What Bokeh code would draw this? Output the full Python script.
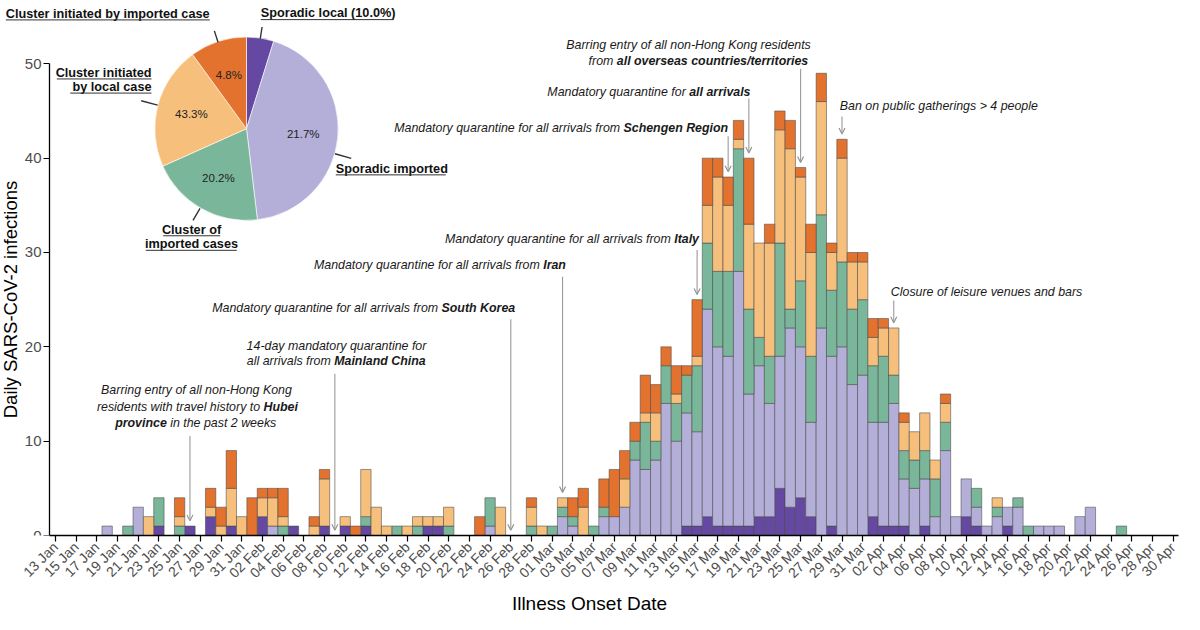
import math
import numpy as np
import pandas as pd
from bokeh.plotting import figure
from bokeh.models import ColumnDataSource, FixedTicker, Label, Arrow, OpenHead, Range1d
from bokeh.embed import file_html
from bokeh.resources import INLINE

# ---------------- data ----------------
onset_dates = (
    ["2020-01-18", "2020-01-20", "2020-01-21", "2020-01-22", "2020-01-23", "2020-01-25",
     "2020-01-26", "2020-01-28", "2020-01-29", "2020-01-30", "2020-01-31"]
    + ["2020-02-01", "2020-02-02", "2020-02-03", "2020-02-04", "2020-02-05", "2020-02-07",
       "2020-02-08", "2020-02-10", "2020-02-11", "2020-02-12", "2020-02-13", "2020-02-14",
       "2020-02-15", "2020-02-16", "2020-02-17", "2020-02-18", "2020-02-19", "2020-02-20",
       "2020-02-23", "2020-02-24", "2020-02-25", "2020-02-28", "2020-02-29"]
    + [f"2020-03-{d:02d}" for d in range(1, 32)]
    + [f"2020-04-{d:02d}" for d in range(1, 20)] + ["2020-04-21", "2020-04-22", "2020-04-25"]
)

sporadic_local = (
    [0, 0, 0, 0, 1, 0, 1, 2, 0, 1, 0]
    + [0, 2, 0, 0, 1, 0, 1, 1, 0, 1, 0, 0, 0, 0, 0, 1, 1, 0, 0, 0, 0, 0, 0]
    + [0, 0, 0, 0, 0, 0, 0, 0, 0, 0, 0, 0, 0, 1, 1, 2, 1, 1, 1, 1, 2, 2, 5, 3, 4, 2, 0, 1, 0, 0, 0]
    + [2, 1, 1, 1, 0, 1, 0, 0, 0, 2, 1, 0, 0, 1, 0, 0, 0, 0, 0, 0, 0, 0]
)
sporadic_imported = (
    [1, 0, 3, 0, 0, 0, 0, 0, 0, 0, 0]
    + [0, 0, 1, 0, 0, 0, 0, 0, 0, 0, 0, 0, 0, 0, 0, 0, 0, 0, 0, 1, 0, 0, 0]
    + [0, 2, 1, 0, 0, 2, 2, 3, 8, 7, 8, 14, 10, 12, 10, 22, 19, 18, 27, 14, 16, 12, 14, 19, 16, 10, 22, 18, 20, 16, 17]
    + [10, 11, 13, 5, 5, 5, 2, 9, 2, 4, 2, 1, 2, 2, 3, 0, 1, 1, 1, 2, 3, 0]
)
cluster_of_imported = (
    [0, 1, 0, 0, 3, 1, 0, 0, 0, 0, 0]
    + [0, 0, 0, 1, 0, 0, 0, 0, 0, 1, 0, 0, 1, 0, 1, 0, 0, 1, 0, 3, 0, 1, 0]
    + [1, 1, 1, 0, 1, 1, 0, 0, 2, 5, 2, 4, 4, 4, 7, 7, 8, 9, 13, 9, 3, 5, 12, 2, 7, 7, 12, 7, 9, 8, 8]
    + [6, 7, 3, 3, 3, 3, 4, 3, 0, 0, 2, 0, 1, 0, 1, 1, 0, 0, 0, 0, 0, 1]
)
cluster_by_local = (
    [0, 0, 0, 2, 0, 1, 0, 1, 1, 4, 2]
    + [0, 2, 3, 1, 0, 1, 5, 1, 0, 5, 3, 1, 0, 1, 1, 1, 1, 2, 0, 0, 3, 2, 1]
    + [0, 1, 0, 3, 0, 0, 0, 3, 0, 1, 3, 0, 1, 0, 1, 4, 10, 7, 1, 9, 10, 12, 12, 17, 11, 11, 12, 4, 11, 5, 4]
    + [3, 3, 5, 3, 3, 4, 2, 2, 0, 0, 0, 0, 1, 0, 0, 0, 0, 0, 0, 0, 0, 0]
)
cluster_by_imported = (
    [0, 0, 0, 0, 0, 2, 0, 2, 2, 4, 0]
    + [4, 1, 1, 3, 0, 1, 1, 0, 1, 0, 0, 0, 0, 0, 0, 0, 0, 0, 2, 0, 0, 1, 0]
    + [0, 0, 2, 2, 0, 3, 5, 3, 2, 4, 3, 2, 3, 1, 6, 5, 2, 3, 2, 7, 0, 2, 2, 3, 1, 3, 3, 1, 2, 1, 1]
    + [2, 1, 0, 1, 0, 0, 0, 1, 0, 0, 0, 0, 0, 0, 0, 0, 0, 0, 0, 0, 0, 0]
)

series = [sporadic_local, sporadic_imported, cluster_of_imported, cluster_by_local, cluster_by_imported]
category_names = ["Sporadic local", "Sporadic imported", "Cluster of imported cases",
                  "Cluster initiated by local case", "Cluster initiated by imported case"]
colors = ["#6448a2", "#b4afd8", "#7ab79a", "#f6c07c", "#e3722f"]

# pie (shares in %, clockwise from 12 o'clock) and its texts as printed on the figure
pie_share = [4.8, 43.3, 20.2, 21.7, 10.0]
pie_inner_text = ["", "21.7%", "20.2%", "43.3%", "4.8%"]

# interventions
event_dates = ["2020-01-26", "2020-02-09", "2020-02-26", "2020-03-02", "2020-03-15",
               "2020-03-18", "2020-03-20", "2020-03-25", "2020-03-29", "2020-04-03"]

start_date = pd.Timestamp("2020-01-13")
end_date = pd.Timestamp("2020-04-30")
tick_dates = pd.date_range(start_date, end_date, freq="2D")
tick_labels = [d.strftime("%d %b") for d in tick_dates]
y_ticks = [0, 10, 20, 30, 40, 50]

# ---------------- layout helpers (reference pixel -> data space) ----------------
X0, DXP = 57.9, 10.35     # reference pixel of day 0, pixels per day
Y0, DYP = 548.7, 9.54     # reference pixel of y=0, pixels per unit
SHIFT = 5.0               # page is shifted right a little (8px page margin)


def dx(px):
    return (px - X0) / DXP


def dy(py):
    return (Y0 - py) / DYP


FONT = "Liberation Sans"
W, H = 1184, 616
BR = 6
x_lo = dx(8 - SHIFT)
x_hi = dx(8 - SHIFT + (W - BR))

p = figure(width=W, height=H, x_range=Range1d(x_lo, x_hi), y_range=Range1d(0, 56.5),
           output_backend="svg", toolbar_location=None,
           min_border_left=0, min_border_right=BR, min_border_top=2, min_border_bottom=75)
p.outline_line_color = None
p.xgrid.grid_line_color = None
p.ygrid.grid_line_color = None
p.background_fill_color = "white"
p.border_fill_color = "white"

# ---------------- stacked bars ----------------
days = np.array([(pd.Timestamp(d) - start_date).days for d in onset_dates])
bottom = np.zeros(len(days))
for vals, col in zip(series, colors):
    v = np.array(vals, dtype=float)
    mask = v > 0
    src = ColumnDataSource(dict(x=days[mask], bottom=bottom[mask], top=(bottom + v)[mask]))
    p.vbar(x="x", width=1.0, bottom="bottom", top="top", source=src,
           fill_color=col, line_color="#4a4a4a", line_width=0.7, line_alpha=0.8)
    bottom = bottom + v
totals = dict(zip(days.tolist(), bottom.tolist()))

# ---------------- axes ----------------
axis_x_left = dx(52)
xa = p.xaxis[0]
xa.ticker = FixedTicker(ticks=[(d - start_date).days for d in tick_dates])
xa.major_label_overrides = {(d - start_date).days: lab for d, lab in zip(tick_dates, tick_labels)}
xa.major_label_orientation = math.pi / 4
xa.axis_label = "Illness Onset Date"
xa.bounds = (axis_x_left, x_hi)
ya = p.yaxis[0]
ya.ticker = FixedTicker(ticks=y_ticks)
ya.bounds = (0, 50)
ya.fixed_location = axis_x_left
ya.axis_label = "Daily SARS-CoV-2 infections"
for ax in (xa, ya):
    ax.minor_tick_line_color = None
    ax.major_tick_in = 0
    ax.major_tick_out = 6
    ax.axis_line_color = "black"
    ax.axis_line_width = 1.3
    ax.major_tick_line_color = "black"
    ax.major_tick_line_width = 1.2
    ax.major_label_text_font = FONT
    ax.major_label_text_color = "#4d4d4d"
    ax.axis_label_text_font = FONT
    ax.axis_label_text_font_style = "normal"
    ax.axis_label_text_font_size = "19px"
    ax.axis_label_text_color = "black"
    ax.major_label_standoff = 3
    ax.axis_label_standoff = 3
xa.major_label_text_font_size = "14px"
ya.major_label_text_font_size = "15px"
ya.major_label_standoff = 2
ya.axis_label_standoff = 1
ya.axis_label_text_font_size = "18.5px"

# ---------------- pie ----------------
pcx, pcy, PR = 249.0, 137.3, 91.7
fr = np.array(pie_share) / sum(pie_share)
f1 = np.cumsum(fr)
f0 = f1 - fr
pie_src = ColumnDataSource(dict(
    x=[dx(pcx)] * len(fr), y=[dy(pcy)] * len(fr),
    start=(math.pi / 2 - 2 * math.pi * f1).tolist(),
    end=(math.pi / 2 - 2 * math.pi * f0).tolist(),
    color=colors))
p.wedge(x="x", y="y", radius=PR, radius_units="screen", start_angle="start", end_angle="end",
        fill_color="color", line_color="white", line_width=0.6, source=pie_src)

mid = 2 * math.pi * (f0 + f1) / 2
for a, t in zip(mid, pie_inner_text):
    if not t:
        continue
    r = 57
    p.add_layout(Label(x=dx(pcx + r * math.sin(a)), y=dy(pcy - r * math.cos(a)), text=t,
                       text_font=FONT, text_font_size="11.5px", text_color="#222222",
                       text_align="center", text_baseline="middle"))

# leader lines (angles in degrees clockwise from top)
leader_deg = [8.6, 106.0, 210.0, 285.0, 342.0]
leader_len = [(92, 104), (92, 109), (93, 107), (92, 109), (92, 104)]
ls = dict(x0=[], y0=[], x1=[], y1=[])
for deg, (r0, r1) in zip(leader_deg, leader_len):
    a = math.radians(deg)
    ls["x0"].append(dx(pcx + r0 * math.sin(a)))
    ls["y0"].append(dy(pcy - r0 * math.cos(a)))
    ls["x1"].append(dx(pcx + r1 * math.sin(a)))
    ls["y1"].append(dy(pcy - r1 * math.cos(a)))
p.add_layout(Arrow(x_start="x0", y_start="y0", x_end="x1", y_end="y1", end=None,
                   line_color="#333333", line_width=1.4, source=ColumnDataSource(ls)))

pie_labels = [
    ("Cluster initiated by imported case", 8.3, 21.0, "left", (8.3, 212.3, 27.3)),
    ("Sporadic local (10.0%)", 263.3, 20.7, "left", (263.3, 396.0, 27.0)),
    ("Cluster initiated", 154.0, 80.7, "right", (59.3, 154.0, 87.0)),
    ("by local case", 154.0, 95.0, "right", (72.7, 154.0, 101.3)),
    ("Sporadic imported", 338.3, 177.7, "left", (338.3, 448.3, 184.0)),
    ("Cluster of", 194.0, 239.3, "center", (165.7, 222.7, 245.6)),
    ("imported cases", 194.0, 254.0, "center", (148.3, 239.3, 260.3)),
]
ul = dict(x0=[], y0=[], x1=[], y1=[])
for text, px, py, al, (u0, u1, uy) in pie_labels:
    p.add_layout(Label(x=dx(px), y=dy(py), text=text, text_font=FONT, text_font_style="bold",
                       text_font_size="12.7px", text_color="#111111",
                       text_align=al, text_baseline="middle"))
    ul["x0"].append(dx(u0)); ul["x1"].append(dx(u1))
    ul["y0"].append(dy(uy)); ul["y1"].append(dy(uy))
p.add_layout(Arrow(x_start="x0", y_start="y0", x_end="x1", y_end="y1", end=None,
                   line_color="#333333", line_width=1.0, source=ColumnDataSource(ul)))

# ---------------- intervention annotations ----------------
arrow_tail_py = [448, 385, 330, 287, 260, 145, 106.7, 76.7, 125, 311]
ev_days = [(pd.Timestamp(d) - start_date).days for d in event_dates]
arr = dict(x0=ev_days, x1=ev_days,
           y0=[dy(t) for t in arrow_tail_py],
           y1=[totals.get(d, 0) + 0.55 for d in ev_days])
p.add_layout(Arrow(x_start="x0", y_start="y0", x_end="x1", y_end="y1",
                   end=OpenHead(size=6, line_color="#8c8c8c", line_width=1.1),
                   line_color="#9a9a9a", line_width=1.1, source=ColumnDataSource(arr)))

# (text, style, reference x, reference y, alignment)
SP = 3.4
ann = [
    ("Barring entry of all non-Hong Kong", "italic", 199.0, 401.7, "center"),
    ("residents with travel history to", "italic", 266.0 - SP, 418.3, "right"),
    ("Hubei", "bold italic", 266.0, 418.3, "left"),
    ("province", "bold italic", 169.3, 435.0, "right"),
    ("in the past 2 weeks", "italic", 169.3 + SP, 435.0, "left"),
    ("14-day mandatory quarantine for", "italic", 339.0, 356.7, "center"),
    ("all arrivals from", "italic", 336.7 - SP, 372.7, "right"),
    ("Mainland China", "bold italic", 336.7, 372.7, "left"),
    ("Mandatory quarantine for all arrivals from", "italic", 444.0 - SP, 318.3, "right"),
    ("South Korea", "bold italic", 444.0, 318.3, "left"),
    ("Mandatory quarantine for all arrivals from", "italic", 545.7 - SP, 275.3, "right"),
    ("Iran", "bold italic", 545.7, 275.3, "left"),
    ("Mandatory quarantine for all arrivals from", "italic", 676.7 - SP, 249.3, "right"),
    ("Italy", "bold italic", 676.7, 249.3, "left"),
    ("Mandatory quarantine for all arrivals from", "italic", 626.0 - SP, 136.7, "right"),
    ("Schengen Region", "bold italic", 626.0, 136.7, "left"),
    ("Mandatory quarantine for", "italic", 691.7 - SP, 100.0, "right"),
    ("all arrivals", "bold italic", 691.7, 100.0, "left"),
    ("Barring entry of all non-Hong Kong residents", "italic", 813.3, 52.7, "right"),
    ("from", "italic", 619.3 - SP, 69.3, "right"),
    ("all overseas countries/territories", "bold italic", 619.3, 69.3, "left"),
    ("Ban on public gatherings > 4 people", "italic", 842.3, 114.0, "left"),
    ("Closure of leisure venues and bars", "italic", 893.3, 302.3, "left"),
]
for text, style, px, py, al in ann:
    p.add_layout(Label(x=dx(px), y=dy(py), text=text, text_font=FONT, text_font_style=style,
                       text_font_size="12.4px", text_color="#1a1a1a",
                       text_align=al, text_baseline="middle"))

open("out.html", "w").write(file_html(p, INLINE))
